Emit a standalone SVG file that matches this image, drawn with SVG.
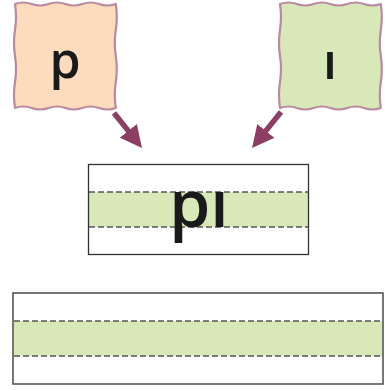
<svg xmlns="http://www.w3.org/2000/svg" width="385" height="391" viewBox="0 0 385 391">
<style>
.card{stroke:#b98aa0;stroke-width:2.2;stroke-linejoin:round}
.peach{fill:#fddbbd}
.green{fill:#d8e8b9}
.band{fill:#d8e8b9;stroke:none}
.dash{stroke:#555;stroke-width:1.3;stroke-dasharray:6 3;fill:none}
.frame{fill:none;stroke:#333;stroke-width:1.3}
.frame2{fill:none;stroke:#555;stroke-width:1.6}
.arrow{stroke:#8a3f63;stroke-width:5.5;fill:none}
.letter{font-family:"Open Sans","DejaVu Sans",sans-serif;font-weight:600;fill:#1a1a1a;text-anchor:middle}
</style>
<defs>
<marker id="head" markerUnits="userSpaceOnUse" markerWidth="24" markerHeight="22" refX="2" refY="11" orient="auto" viewBox="0 0 24 22">
<path d="M0,0 L22,11 L0,22 z" fill="#8a3f63"/>
</marker>
</defs>
<g id="node-p">
<path class="card peach" d="M15,4 q8.4,-3 16.8,0 t16.8,0 t16.8,0 t16.8,0 t16.8,0 t16.8,0 q2,13 0,26 t0,26 t0,26 t0,26 q-8.4,3 -16.8,0 t-16.8,0 t-16.8,0 t-16.8,0 t-16.8,0 t-16.8,0 q-2,-13 0,-26 t0,-26 t0,-26 t0,-26 z"/>
<text class="letter" x="65" y="78" font-size="50">p</text>
</g>
<g id="node-i">
<path class="card green" d="M280,4 q8.4,-3 16.8,0 t16.8,0 t16.8,0 t16.8,0 t16.8,0 t16.8,0 q2,13 0,26 t0,26 t0,26 t0,26 q-8.4,3 -16.8,0 t-16.8,0 t-16.8,0 t-16.8,0 t-16.8,0 t-16.8,0 q-2,-13 0,-26 t0,-26 t0,-26 t0,-26 z"/>
<text class="letter" x="330" y="79" font-size="50">ı</text>
</g>
<g id="connectors">
<line class="arrow" x1="114" y1="113" x2="129.5" y2="132.4" marker-end="url(#head)"/>
<line class="arrow" x1="281" y1="112" x2="264.6" y2="132.4" marker-end="url(#head)"/>
</g>
<g id="node-pi">
<rect x="89" y="192" width="219" height="35" class="band"/>
<line class="dash" x1="89" y1="192" x2="308" y2="192"/>
<line class="dash" x1="89" y1="227" x2="308" y2="227"/>
<rect class="frame" x="88.5" y="164.5" width="220" height="90"/>
<text class="letter" x="199" y="227" font-size="66">pı</text>
</g>
<g id="node-blank">
<rect x="14" y="321" width="369" height="35" class="band"/>
<line class="dash" x1="14" y1="321" x2="383" y2="321"/>
<line class="dash" x1="14" y1="356" x2="383" y2="356"/>
<rect class="frame2" x="13" y="293" width="370" height="91"/>
</g>
</svg>
